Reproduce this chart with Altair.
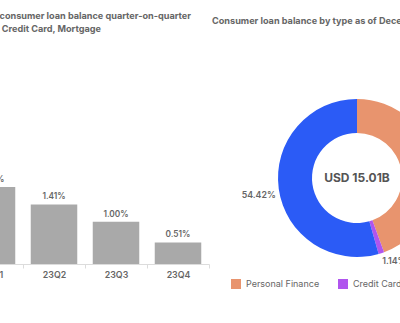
import altair as alt
import pandas as pd

# ---- data ----
quarters = ["23Q1", "23Q2", "23Q3", "23Q4"]
growth = [1.82, 1.41, 1.00, 0.51]

loan_types = ["Personal Finance", "Credit Card", "Mortgage"]
shares = [44.44, 1.14, 54.42]
total_label = "USD 15.01B"

left_title = ["Growth of Indonesia consumer loan balance quarter-on-quarter",
              "Personal Finance, Credit Card, Mortgage"]
right_title = "Consumer loan balance by type as of December 2023"

type_colors = ["#E8946E", "#B055EE", "#2B5BF6"]

FONT = "Inter"
GREY = "#666666"

# ---- tables ----
bar_df = pd.DataFrame({"quarter": quarters, "growth": growth})
bar_df["label"] = [f"{v:.2f}%" for v in growth]

pie_df = pd.DataFrame({"type": loan_types, "share": shares, "idx": range(len(shares))})
pie_df["label"] = [f"{v:.2f}%" for v in shares]
cum = pie_df["share"].cumsum()
mid = cum - pie_df["share"] / 2
pie_df["label_left"] = [l if m > 50 else "" for l, m in zip(pie_df["label"], mid)]
pie_df["label_right"] = [l if m <= 50 else "" for l, m in zip(pie_df["label"], mid)]

# ---- bar chart ----
xenc = alt.X(
    "quarter:N", sort=quarters,
    scale=alt.Scale(range=[-39, 209], paddingInner=0, paddingOuter=0),
    axis=alt.Axis(title=None, tickBand="extent", domainColor="#dcdcdc", tickColor="#dcdcdc",
                  tickSize=4, labelColor=GREY, labelFont=FONT, labelFontSize=8.8,
                  labelFontWeight=600, labelPadding=2, labelAngle=0, offset=-59, grid=False),
)
yenc = alt.Y("growth:Q", scale=alt.Scale(domain=[0, 4], range=[264, 95]), axis=None)

bars = alt.Chart(bar_df).mark_bar(color="#a9a9a9", width=alt.RelativeBandSize(0.75)).encode(
    x=xenc, y=yenc)
bar_text = alt.Chart(bar_df).mark_text(
    baseline="alphabetic", dy=-5, font=FONT, fontSize=8.3, fontWeight=600, color=GREY
).encode(x=xenc, y=yenc, text="label:N")
bar_layer = alt.layer(bars, bar_text)

# ---- donut ----
CX, CY = 357, 178
theta = alt.Theta("share:Q", stack=True)
order = alt.Order("idx:Q")
color = alt.Color(
    "type:N", sort=loan_types,
    scale=alt.Scale(domain=loan_types, range=type_colors),
    legend=alt.Legend(orient="none", legendX=231, legendY=279, direction="horizontal",
                      title=None, symbolType="square", symbolSize=100, symbolStrokeWidth=0,
                      labelFont=FONT, labelFontSize=9, labelColor=GREY,
                      columnPadding=18, labelOffset=5),
)
arcs = alt.Chart(pie_df).mark_arc(radius=79, radius2=45).encode(
    theta=theta, color=color, order=order, x=alt.value(CX), y=alt.value(CY))
lab_left = alt.Chart(pie_df).mark_text(
    radius=82, align="right", baseline="middle", dy=6, font=FONT, fontSize=8.8,
    fontWeight=600, color=GREY
).encode(theta=theta, order=order, text="label_left:N", x=alt.value(CX), y=alt.value(CY))
lab_right = alt.Chart(pie_df).mark_text(
    radius=82, align="left", baseline="middle", dy=5, font=FONT, fontSize=8.8,
    fontWeight=600, color=GREY
).encode(theta=theta, order=order, text="label_right:N", x=alt.value(CX), y=alt.value(CY))
center = alt.Chart(pd.DataFrame({"t": [total_label]})).mark_text(
    font=FONT, fontSize=12, fontWeight="bold", color="#555555", baseline="middle"
).encode(text="t:N", x=alt.value(CX), y=alt.value(CY))
donut_layer = alt.layer(arcs, lab_left, lab_right, center)

# ---- titles ----
tdf = pd.DataFrame({"a": [0]})
tstyle = dict(font=FONT, fontSize=9.15, fontWeight="bold", color=GREY, baseline="middle")
t1 = alt.Chart(tdf).mark_text(align="right", text=left_title[0], **tstyle).encode(
    x=alt.value(191), y=alt.value(16))
t2 = alt.Chart(tdf).mark_text(align="right", text=left_title[1], **tstyle).encode(
    x=alt.value(101), y=alt.value(29))
t3 = alt.Chart(tdf).mark_text(align="left", text=right_title, **tstyle).encode(
    x=alt.value(212), y=alt.value(20.5))

chart = alt.layer(bar_layer, donut_layer, t1, t2, t3).resolve_scale(
    x="independent", y="independent", theta="independent", color="independent"
).properties(
    width=400, height=323, autosize=alt.AutoSizeParams(type="none"), padding=0,
    background="white"
).configure_view(stroke=None)

chart.save("out.html", embed_options={"renderer": "svg", "actions": False})
